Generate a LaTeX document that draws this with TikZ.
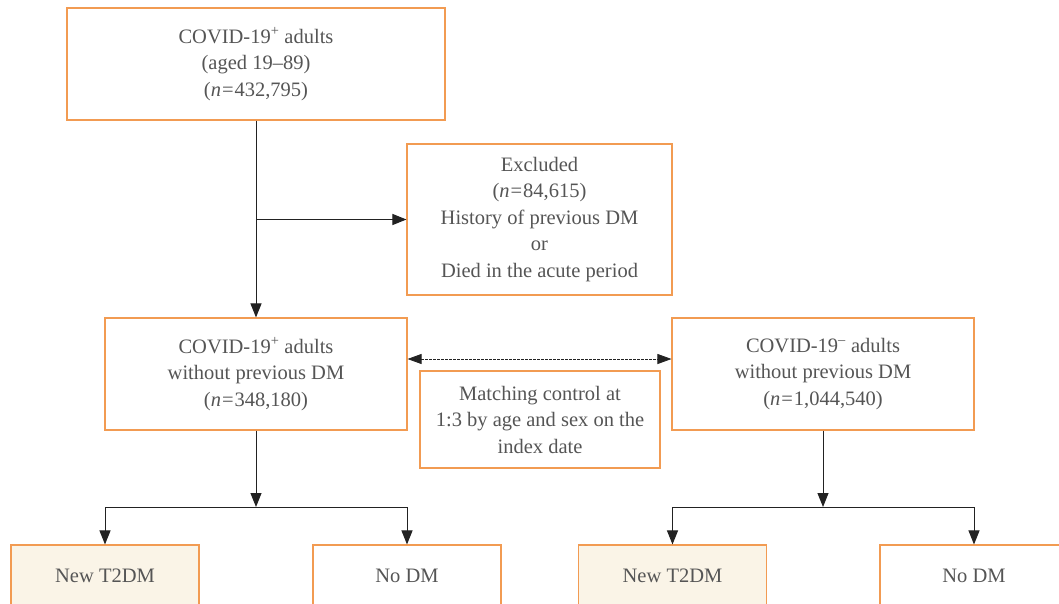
\documentclass[tikz,border=0pt]{standalone}
\usepackage{fontspec}
\setmainfont{Liberation Serif}
\usetikzlibrary{arrows.meta}
\definecolor{boxline}{HTML}{F29B52}
\definecolor{txt}{HTML}{555555}
\definecolor{cream}{HTML}{FAF4E7}
\definecolor{arr}{HTML}{222222}
\begin{document}
\begin{tikzpicture}[x=1pt,y=-1pt,
  box/.style={draw=boxline, line width=1.1pt, text=txt, align=center,
    font=\fontsize{20.5}{26.5}\selectfont, inner sep=0pt, rectangle},
  conn/.style={draw=arr, line width=1pt, -{Triangle[length=14pt,width=11pt]}},
  plainline/.style={draw=arr, line width=1pt},
  dotarr/.style={draw=arr, line width=0.8pt, dash pattern=on 2.5pt off 1.5pt,
    {Triangle[length=14pt,width=10pt]}-{Triangle[length=14pt,width=10pt]}}]
\clip (0,0) rectangle (1059,604);
\fill[white] (0,0) rectangle (1059,604);

\node[box, minimum width=378pt, minimum height=112pt] (top) at (256,64)
  {COVID-19\textsuperscript{+} adults\\(aged 19–89)\\(\textit{n}\kern1pt=\kern1pt432,795)};
\node[box, minimum width=265pt, minimum height=151pt] (exc) at (539.5,219.5)
  {Excluded\\(\textit{n}\kern1pt=\kern1pt84,615)\\History of previous DM\\or\\Died in the acute period};
\node[box, minimum width=302pt, minimum height=112pt] (midL) at (256,374)
  {COVID-19\textsuperscript{+} adults\\without previous DM\\(\textit{n}\kern1pt=\kern1pt348,180)};
\node[box, minimum width=302pt, minimum height=112pt] (midR) at (823,374)
  {COVID-19\textsuperscript{–} adults\\without previous DM\\(\textit{n}\kern1pt=\kern1pt1,044,540)};
\node[box, minimum width=240pt, minimum height=97pt] (mat) at (540,419.5)
  {Matching control at\\1:3 by age and sex on the\\index date};
\node[box, fill=cream, minimum width=188pt, minimum height=62pt] (nL1) at (105,576) {New T2DM};
\node[box, minimum width=188pt, minimum height=62pt] (nL2) at (407,576) {No DM};
\node[box, fill=cream, minimum width=188pt, minimum height=62pt] (nR1) at (672.5,576) {New T2DM};
\node[box, minimum width=188pt, minimum height=62pt] (nR2) at (974,576) {No DM};

\draw[conn] (top.south) -- (midL.north);
\draw[conn] (top.south |- exc.west) -- (exc.west);
\draw[dotarr] ([yshift=15pt]midL.east) -- ([yshift=15pt]midR.west);

\coordinate (jL) at (256,507);
\coordinate (jR) at (823,507);
\draw[conn] (midL.south) -- (jL);
\draw[plainline] (nL1.north |- jL) -- (nL2.north |- jL);
\draw[conn] (nL1.north |- jL) -- (nL1.north);
\draw[conn] (nL2.north |- jL) -- (nL2.north);
\draw[conn] (midR.south) -- (jR);
\draw[plainline] (nR1.north |- jR) -- (nR2.north |- jR);
\draw[conn] (nR1.north |- jR) -- (nR1.north);
\draw[conn] (nR2.north |- jR) -- (nR2.north);
\end{tikzpicture}
\end{document}
